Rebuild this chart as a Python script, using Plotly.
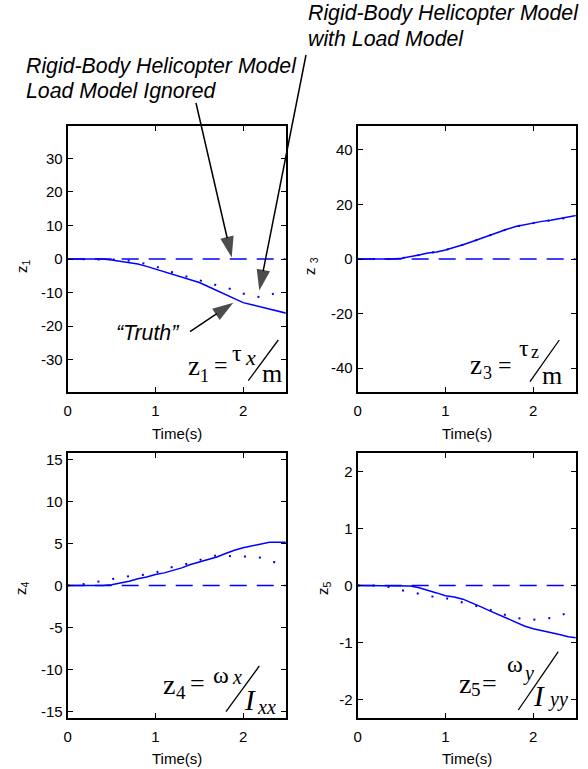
import plotly.graph_objects as go

W, H = 588, 769

# ---------------- data ----------------
t = [0.0, 0.1, 0.2, 0.3, 0.4, 0.5, 0.6, 0.7, 0.8, 0.9, 1.0, 1.1, 1.2,
     1.3, 1.4, 1.5, 1.6, 1.7, 1.8, 1.9, 2.0, 2.1, 2.2, 2.3, 2.4, 2.5]

z1_truth = [0, 0, 0, 0, 0, -0.3, -0.7, -1.0, -1.5, -2.2, -3.0, -3.8, -4.6,
            -5.4, -6.2, -7.0, -8.2, -9.4, -10.6, -11.8, -13.0, -13.6, -14.3,
            -15.0, -15.6, -16.2]
z1_load = [0, 0, 0, 0, 0, 0, -0.2, -0.5, -0.9, -1.5, -2.2, -3.2, -4.0,
           -4.8, -5.6, -6.4, -7.2, -8.0, -8.6, -9.2, -10.3, -11.0, -11.4,
           -10.8, -9.8, -9.5]
z1_ignored = [0] * 26

z3_truth = [0, 0, 0, 0, 0, 0.3, 0.8, 1.5, 2.2, 2.6, 3.3, 4.2, 5.2, 6.3,
            7.5, 8.7, 9.8, 10.9, 11.9, 12.6, 13.3, 13.8, 14.2, 14.8, 15.5,
            16.0]
z3_load = [0, 0, 0, 0, 0, 0.3, 0.8, 1.5, 2.2, 2.6, 3.3, 4.2, 5.2, 6.3,
           7.5, 8.7, 9.8, 10.9, 11.9, 12.6, 13.3, 13.8, 14.2, 14.8, 15.2,
           14.0]
z3_ignored = [0] * 26

z4_truth = [0, 0, 0, 0, 0, 0.1, 0.3, 0.5, 0.8, 1.0, 1.3, 1.5, 1.8, 2.1,
            2.5, 2.8, 3.1, 3.4, 3.8, 4.2, 4.5, 4.7, 4.9, 5.15, 5.15, 5.15]
z4_load = [0, 0.05, 0.2, 0.35, 0.55, 0.75, 0.95, 1.1, 1.2, 1.3, 1.5, 2.0,
           2.2, 2.4, 2.7, 3.05, 3.35, 3.6, 3.5, 3.45, 3.45, 3.45, 3.3, 3.0,
           2.6, 2.2]
z4_ignored = [0] * 26

z5_truth = [0, 0, 0, 0, 0, 0, -0.01, -0.04, -0.08, -0.13, -0.18, -0.2,
            -0.24, -0.3, -0.37, -0.44, -0.51, -0.58, -0.65, -0.71, -0.76,
            -0.79, -0.82, -0.86, -0.9, -0.92]
z5_load = [0, 0, 0, 0, -0.05, -0.08, -0.11, -0.15, -0.18, -0.21, -0.22,
           -0.26, -0.3, -0.33, -0.37, -0.42, -0.48, -0.53, -0.57, -0.59,
           -0.6, -0.59, -0.57, -0.53, -0.47, -0.42]
z5_ignored = [0] * 26

x_ticks = [0, 1, 2]
z1_ticks = [-30, -20, -10, 0, 10, 20, 30]
z3_ticks = [-40, -20, 0, 20, 40]
z4_ticks = [-15, -10, -5, 0, 5, 10, 15]
z5_ticks = [-2, -1, 0, 1, 2]

x_title = "Time(s)"
y_titles = ["z<sub>1</sub>", "z <sub>3</sub>", "z<sub>4</sub>", "z<sub>5</sub>"]

# ---------------- layout helpers ----------------
def px(x):
    return x / W

def py(y):
    return 1 - y / H

BLUE = "#0000ff"
xL = [px(67.7), px(285.7)]
xR = [px(357.7), px(575.7)]
yT = [py(392.3), py(125.7)]
yB = [py(718.3), py(452.7)]

panels = [
    ("x", "y", xL, yT, [-39.7, 39.7], z1_ticks, z1_truth, z1_load, z1_ignored),
    ("x2", "y2", xR, yT, [-48.9, 48.9], z3_ticks, z3_truth, z3_load, z3_ignored),
    ("x3", "y3", xL, yB, [-15.8, 15.8], z4_ticks, z4_truth, z4_load, z4_ignored),
    ("x4", "y4", xR, yB, [-2.33, 2.33], z5_ticks, z5_truth, z5_load, z5_ignored),
]

fig = go.Figure()
layout_axes = {}
for i, (xa, ya, xd, yd, yr, yt, tr, ld, ig) in enumerate(panels):
    fig.add_trace(go.Scatter(x=t, y=ig, xaxis=xa, yaxis=ya, mode="lines",
                             line=dict(color=BLUE, width=1.5, dash="17px,10px")))
    fig.add_trace(go.Scatter(x=t, y=ld, xaxis=xa, yaxis=ya, mode="lines",
                             line=dict(color=BLUE, width=2, dash="2px,13px")))
    fig.add_trace(go.Scatter(x=t, y=tr, xaxis=xa, yaxis=ya, mode="lines",
                             line=dict(color=BLUE, width=1.5)))
    common = dict(showgrid=False, zeroline=False, showline=True, linecolor="black",
                  linewidth=2, mirror="ticks", ticks="inside", ticklen=5,
                  tickwidth=1, tickcolor="black", automargin=False,
                  tickfont=dict(size=15, color="black"), fixedrange=True)
    xkey = "xaxis" if xa == "x" else "xaxis" + xa[1:]
    ykey = "yaxis" if ya == "y" else "yaxis" + ya[1:]
    layout_axes[xkey] = dict(domain=xd, range=[0, 2.485], tickvals=x_ticks,
                             ticktext=[str(v) for v in x_ticks], anchor=ya,
                             ticklabelstandoff=4, **common)
    layout_axes[ykey] = dict(domain=yd, range=yr, tickvals=yt,
                             ticktext=[str(v) for v in yt], anchor=xa, **common)

# overlay axes in pixel units of the page, used only for the call-out arrows
layout_axes["xaxis5"] = dict(domain=[0, 1], range=[0, W], visible=False,
                             fixedrange=True, anchor="y5")
layout_axes["yaxis5"] = dict(domain=[0, 1], range=[H, 0], visible=False,
                             fixedrange=True, anchor="x5")

fig.update_layout(width=W, height=H, margin=dict(l=0, r=0, t=0, b=0),
                  paper_bgcolor="white", plot_bgcolor="rgba(0,0,0,0)",
                  showlegend=False,
                  font=dict(family="Liberation Sans, Arial", color="black"),
                  **layout_axes)

# call-out arrows: (tail_x, tail_y, tip_x, tip_y) in page pixels
arrows = [(196, 103, 231.7, 257.5), (306, 55, 259.3, 290.5),
          (190, 331.7, 233.3, 302.7)]
for x0, y0, x1, y1 in arrows:
    fig.add_trace(go.Scatter(x=[x0, x1], y=[y0, y1], xaxis="x5", yaxis="y5",
                             mode="lines+markers", cliponaxis=False,
                             line=dict(color="black", width=1.5),
                             marker=dict(symbol="arrow", size=[0, 22],
                                         angleref="previous", color="black",
                                         line=dict(width=0))))

ann = []
shapes = []

def text(s, x, y, size, family="Liberation Sans, Arial", xanchor="center",
         angle=0):
    ann.append(dict(text=s, x=px(x), y=py(y), xref="paper", yref="paper",
                    showarrow=False, xanchor=xanchor, yanchor="middle",
                    textangle=angle, font=dict(size=size, family=family,
                                               color="black")))

# axis labels
for lab, x, y in zip(y_titles, [22, 310, 21, 323], [266, 266, 588, 588]):
    text(lab, x, y, 15, angle=-90)
for x, y in [(176.7, 433), (466.7, 433), (176.7, 758), (466.7, 758)]:
    text(x_title, x, y, 15)

# callout texts
AF = 21.3
text("<i>Rigid-Body Helicopter Model</i>", 24, 66, AF, xanchor="left")
text("<i>Load Model Ignored</i>", 24, 91, AF, xanchor="left")
text("<i>Rigid-Body Helicopter Model</i>", 306, 13, AF, xanchor="left")
text("<i>with Load Model</i>", 306, 39, AF, xanchor="left")
text("<i>\u201cTruth\u201d</i>", 147, 333, AF)

# formulas
SER = "Liberation Serif, Times New Roman, serif"
formulas = [
    # panel z1
    [("z", 194, 366, 27), ("1", 204, 376, 18), ("=", 221, 365, 24),
     ("\u03c4", 237, 353, 24), ("<i>x</i>", 251, 357, 22), ("m", 272, 373, 26)],
    # panel z3
    [("z", 476, 365, 27), ("3", 487, 373, 18), ("=", 505, 365, 24),
     ("\u03c4", 524, 348, 24), ("z", 535, 352, 18), ("m", 552, 375, 26)],
    # panel z4
    [("z", 169, 684, 28), ("4", 181, 692, 19), ("=", 197, 683, 26),
     ("\u03c9", 221, 675, 24), ("<i>x</i>", 237, 677, 20),
     ("<i>I</i>", 250, 700, 29), ("<i>xx</i>", 266, 707, 20)],
    # panel z5
    [("z", 465, 683, 28), ("5", 476, 689, 19), ("=", 489, 683, 26),
     ("\u03c9", 515, 664, 24), ("<i>y</i>", 528, 673, 20),
     ("<i>I</i>", 539, 696, 29), ("<i>yy</i>", 558, 699, 20)],
]
for parts in formulas:
    for s, x, y, size in parts:
        text(s, x, y, size, family=SER)

for x0, y0, x1, y1 in [(248.3, 380.7, 278.3, 340), (530, 381.7, 559.3, 340),
                       (226, 711.7, 259.3, 666), (518.3, 710, 558.3, 651.7)]:
    shapes.append(dict(type="line", xref="paper", yref="paper",
                       x0=px(x0), y0=py(y0), x1=px(x1), y1=py(y1),
                       line=dict(color="black", width=1.3)))

fig.update_layout(annotations=ann, shapes=shapes)
fig.write_html("out.html")
